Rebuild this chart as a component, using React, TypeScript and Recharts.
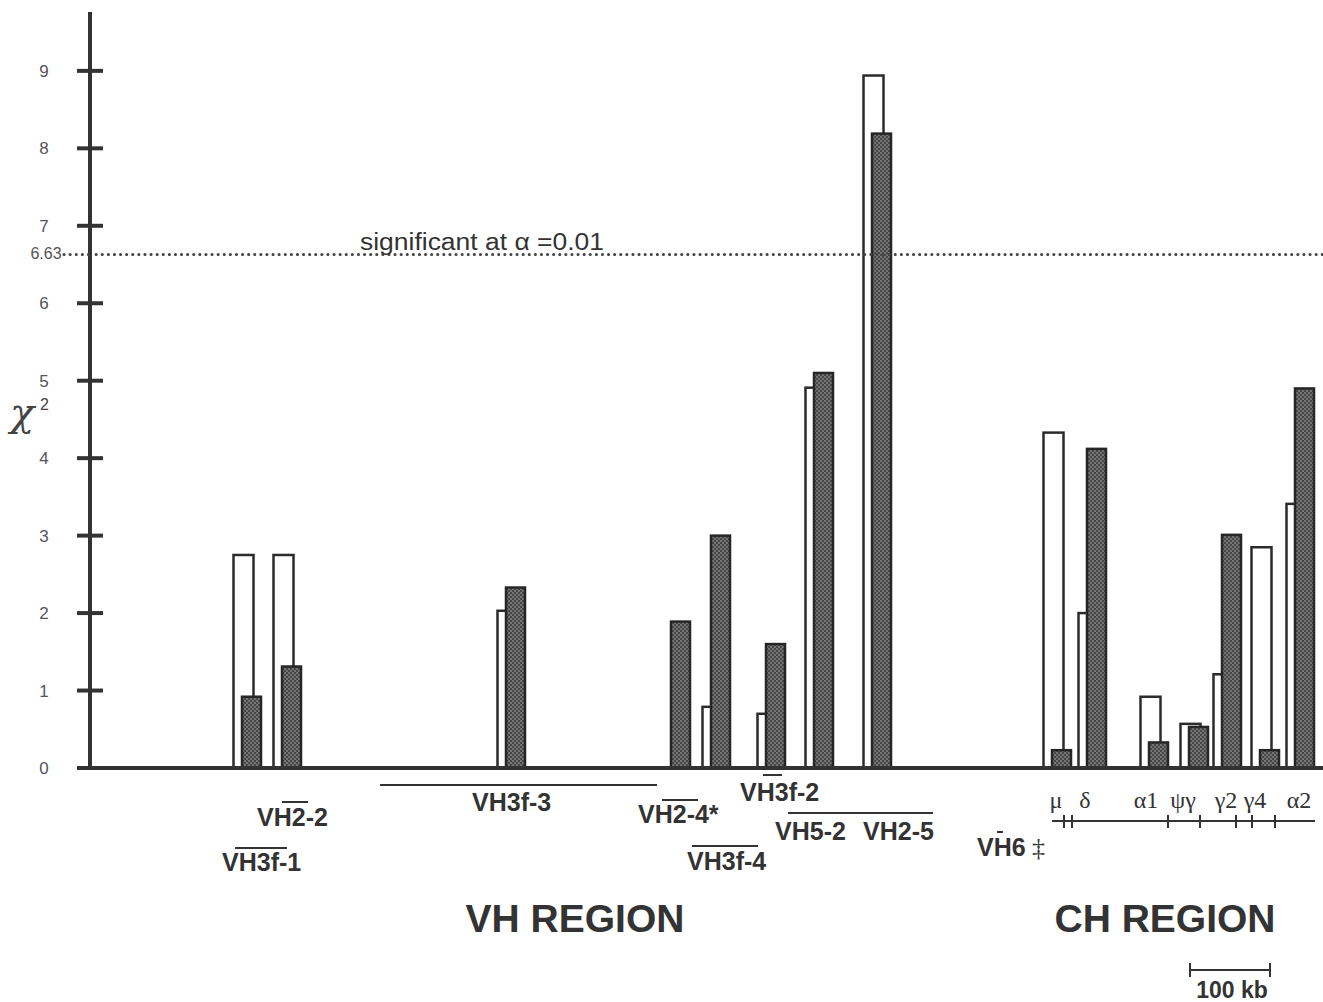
import { BarChart, Bar, XAxis, YAxis, ReferenceLine } from 'recharts';

// map position of each bar pair along the locus (arbitrary map units)
const positions = [157, 197, 421, 586, 626, 681, 729, 787, 967, 1002, 1064, 1104, 1137, 1175, 1210];
// open bars
const openValues = [2.75, 2.75, 2.03, 0, 0.79, 0.7, 4.91, 8.94, 4.33, 2.0, 0.92, 0.57, 1.21, 2.85, 3.41];
// shaded (stippled) bars
const shadedValues = [0.92, 1.31, 2.33, 1.89, 3.0, 1.6, 5.1, 8.19, 0.23, 4.12, 0.33, 0.53, 3.01, 0.23, 4.9];

const yTicks = [0, 1, 2, 3, 4, 5, 6, 6.63, 7, 8, 9];
const threshold = 6.63;

const chData = positions.map((pos, i) => ({
  pos,
  open: openValues[i],
  shaded: shadedValues[i],
}));

const INK = '#333';
const SANS = '"Liberation Sans", Arial, Helvetica, sans-serif';
const SERIF = '"Liberation Serif", "DejaVu Serif", "Times New Roman", serif';

const YTick = (props: any) => {
  const { x, y, payload } = props;
  const v = payload.value;
  if (v === threshold) {
    return (
      <g>
        <text x={x - 44} y={y} dy={5} textAnchor="middle" fontSize={16} fill="#555" fontFamily={SANS}>
          {v}
        </text>
        <line x1={x - 26} x2={x} y1={y} y2={y} stroke="#444" strokeWidth={3}
          strokeDasharray="0.1 6" strokeLinecap="round" />
      </g>
    );
  }
  return (
    <g>
      <line x1={x - 13} x2={x + 13} y1={y} y2={y} stroke={INK} strokeWidth={4} />
      <text x={x - 46} y={y} dy={6} textAnchor="middle" fontSize={17} fill="#555" fontFamily={SANS}>
        {v}
      </text>
    </g>
  );
};

const OpenBar = (props: any) => {
  const { x, y, width, height } = props;
  if (!height || height <= 0) return <g />;
  return <rect x={x - 4} y={y} width={width} height={height} fill="#fff" stroke="#2b2b2b" strokeWidth={2.5} />;
};

const ShadedBar = (props: any) => {
  const { x, y, width, height } = props;
  if (!height || height <= 0) return <g />;
  return <rect x={x + 4.5} y={y} width={width} height={height} fill="url(#stipple)" stroke="#262626" strokeWidth={2.5} />;
};

const geneText = { fontFamily: SANS, fontWeight: 700, fontSize: 25, fill: INK } as const;
const greekText = { fontFamily: SERIF, fontSize: 24, fill: INK } as const;

const Overlay = () => (
  <svg width={1323} height={1002} style={{ position: 'absolute', left: 0, top: 0, pointerEvents: 'none' }}>
    <defs>
      <pattern id="stipple" width="4" height="4" patternUnits="userSpaceOnUse">
        <rect width="4" height="4" fill="#474747" />
        <circle cx="1" cy="1" r="0.8" fill="#b0b0b0" />
        <circle cx="3" cy="3" r="0.8" fill="#b0b0b0" />
      </pattern>
    </defs>

    {/* y axis title */}
    <text x={10} y={426} fontFamily={'"DejaVu Serif", serif'} fontStyle="italic" fontSize={40} fill="#444">χ</text>
    <text x={40} y={410} fontFamily={SANS} fontSize={16} fill="#444">2</text>

    <text x={360} y={250} fontFamily={SANS} fontSize={23} textLength={244} lengthAdjust="spacingAndGlyphs" fill={INK}>
      significant at α =0.01
    </text>

    {/* VH region gene labels */}
    <g stroke={INK} strokeWidth={2}>
      <line x1={282} x2={308} y1={802} y2={802} />
      <line x1={235} x2={287} y1={848} y2={848} />
      <line x1={380} x2={657} y1={785} y2={785} />
      <line x1={662} x2={698} y1={800} y2={800} />
      <line x1={763} x2={782} y1={775} y2={775} />
      <line x1={788} x2={933} y1={813} y2={813} />
      <line x1={692} x2={758} y1={846} y2={846} />
      <line x1={997} x2={1003} y1={832} y2={832} />
    </g>
    <text x={257} y={826} {...geneText}>VH2-2</text>
    <text x={222} y={871} {...geneText}>VH3f-1</text>
    <text x={472} y={811} {...geneText}>VH3f-3</text>
    <text x={638} y={823} {...geneText}>VH2-4*</text>
    <text x={740} y={801} {...geneText}>VH3f-2</text>
    <text x={775} y={840} {...geneText}>VH5-2</text>
    <text x={863} y={840} {...geneText}>VH2-5</text>
    <text x={687} y={870} {...geneText}>VH3f-4</text>
    <text x={977} y={856} {...geneText}>VH6</text>
    <text x={1032} y={856} fontFamily={SERIF} fontSize={26} fill={INK}>‡</text>

    {/* CH region map */}
    <g stroke={INK} strokeWidth={2}>
      <line x1={1052} x2={1315} y1={821} y2={821} />
      {[1064, 1072, 1168, 1200, 1236, 1252, 1275].map((tx) => (
        <line key={tx} x1={tx} x2={tx} y1={815} y2={828} />
      ))}
    </g>
    <text x={1056} y={808} textAnchor="middle" {...greekText}>μ</text>
    <text x={1085} y={808} textAnchor="middle" {...greekText}>δ</text>
    <text x={1146} y={808} textAnchor="middle" {...greekText}>α1</text>
    <text x={1183} y={808} textAnchor="middle" {...greekText}>ψγ</text>
    <text x={1226} y={808} textAnchor="middle" {...greekText}>γ2</text>
    <text x={1255} y={808} textAnchor="middle" {...greekText}>γ4</text>
    <text x={1299} y={808} textAnchor="middle" {...greekText}>α2</text>

    <text x={575} y={932} textAnchor="middle" fontFamily={SANS} fontWeight={700} fontSize={39} fill={INK}>VH REGION</text>
    <text x={1165} y={932} textAnchor="middle" fontFamily={SANS} fontWeight={700} fontSize={39} fill={INK}>CH REGION</text>

    {/* 100 kb scale bar */}
    <g stroke={INK} strokeWidth={2}>
      <line x1={1190} x2={1270} y1={970} y2={970} />
      <line x1={1190} x2={1190} y1={963} y2={977} />
      <line x1={1270} x2={1270} y1={963} y2={977} />
    </g>
    <text x={1232} y={998} textAnchor="middle" fontFamily={SANS} fontWeight={700} fontSize={23} fill={INK}>100 kb</text>
  </svg>
);

export default function App() {
  return (
    <div style={{ position: 'absolute', left: 0, top: 0, width: 1323, height: 1002, background: '#fff' }}>
      <BarChart
        width={1323}
        height={1002}
        data={chData}
        margin={{ top: 12, right: 0, bottom: 204, left: 0 }}
      >
        <XAxis
          xAxisId="open"
          dataKey="pos"
          type="number"
          domain={[0, 1233]}
          allowDataOverflow
          height={30}
          tick={false}
          tickLine={false}
          axisLine={{ stroke: INK, strokeWidth: 4 }}
        />
        <XAxis xAxisId="shaded" dataKey="pos" type="number" domain={[0, 1233]} allowDataOverflow hide />
        <YAxis
          width={90}
          domain={[0, 9.76]}
          ticks={yTicks}
          interval={0}
          tickSize={0}
          tickMargin={0}
          tickLine={false}
          tick={<YTick />}
          axisLine={{ stroke: INK, strokeWidth: 4 }}
          allowDataOverflow
        />
        <ReferenceLine
          xAxisId="open"
          y={threshold}
          stroke="#444"
          strokeWidth={3}
          strokeDasharray="0.1 6"
          strokeLinecap="round"
        />
        <Bar xAxisId="open" dataKey="open" barSize={20} shape={<OpenBar />} isAnimationActive={false} />
        <Bar xAxisId="shaded" dataKey="shaded" barSize={19} shape={<ShadedBar />} isAnimationActive={false} />
      </BarChart>
      <Overlay />
    </div>
  );
}
